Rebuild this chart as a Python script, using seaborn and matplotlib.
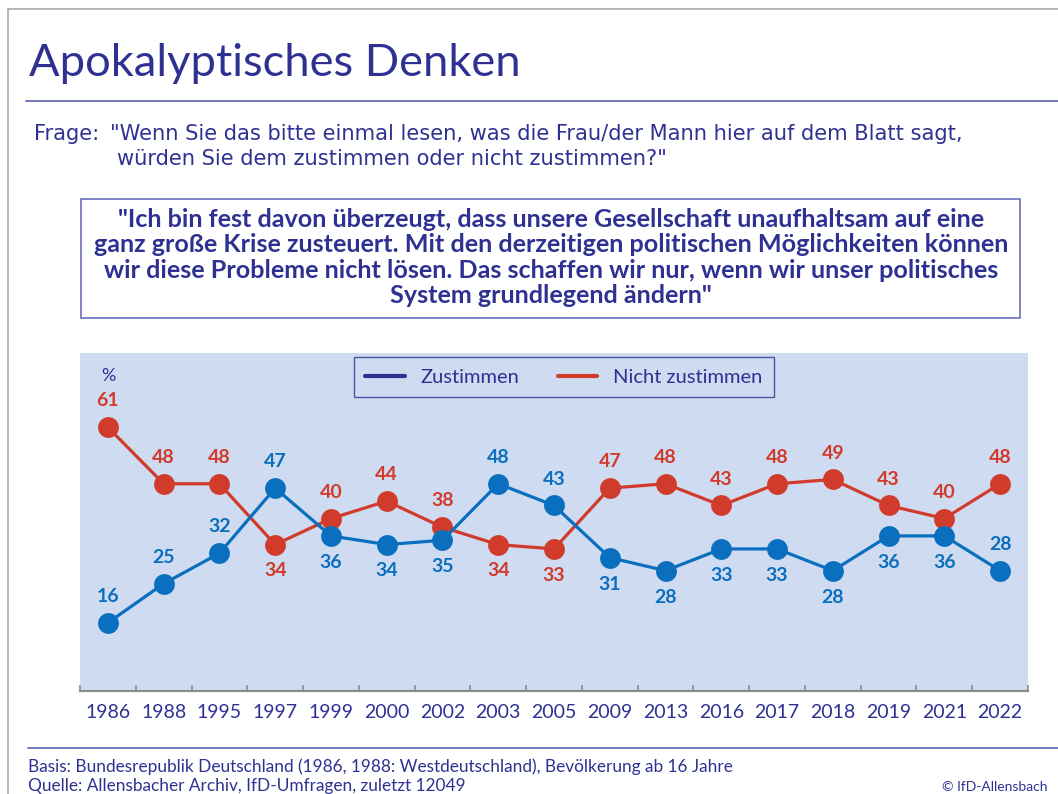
import matplotlib
matplotlib.use("Agg")
import matplotlib.pyplot as plt
import seaborn as sns
import pandas as pd
from matplotlib.lines import Line2D
from matplotlib.patches import Rectangle

sns.set_theme(style="white")
plt.rcParams['font.family'] = ['Lato', 'DejaVu Sans']

# data
years = ['1986', '1988', '1995', '1997', '1999', '2000', '2002', '2003', '2005',
         '2009', '2013', '2016', '2017', '2018', '2019', '2021', '2022']
zustimmen = [16, 25, 32, 47, 36, 34, 35, 48, 43, 31, 28, 33, 33, 28, 36, 36, 28]
nicht_zustimmen = [61, 48, 48, 34, 40, 44, 38, 34, 33, 47, 48, 43, 48, 49, 43, 40, 48]
# +1 = label above the point, -1 = below
zu_side = [1, 1, 1, 1, -1, -1, -1, 1, 1, -1, -1, -1, -1, -1, -1, -1, 1]
nz_side = [1, 1, 1, -1, 1, 1, 1, -1, -1, 1, 1, 1, 1, 1, 1, 1, 1]

navy = '#2e3192'
blue = '#0a6fbf'
red = '#d13b2c'
bg = '#cfdbf0'

W, H = 1058, 794


def fx(px):
    return px / W


def fy(py):
    return 1 - py / H


fig = plt.figure(figsize=(W / 100, H / 100), dpi=100)

# frame + rules
fig.add_artist(Line2D([fx(8), fx(8)], [fy(9), fy(794)], color='#a8a8a8', lw=1.2))
fig.add_artist(Line2D([fx(8), fx(1058)], [fy(9), fy(9)], color='#a8a8a8', lw=1.2))
fig.add_artist(Line2D([fx(26), fx(1058)], [fy(101), fy(101)], color='#5a5fb0', lw=1.2))
fig.add_artist(Line2D([fx(28), fx(1058)], [fy(748), fy(748)], color='#5a5fb0', lw=1.2))

fig.text(fx(29), fy(76), 'Apokalyptisches Denken', fontsize=32.6, color=navy,
         va='baseline', ha='left')

qfont = ['DejaVu Sans']
fig.text(fx(34), fy(140), 'Frage:', fontsize=15.1, color=navy, va='baseline', family=qfont)
fig.text(fx(110), fy(140), '"Wenn Sie das bitte einmal lesen, was die Frau/der Mann hier auf dem Blatt sagt,',
         fontsize=15.1, color=navy, va='baseline', family=qfont)
fig.text(fx(117), fy(165), 'würden Sie dem zustimmen oder nicht zustimmen?"',
         fontsize=15.1, color=navy, va='baseline', family=qfont)

fig.add_artist(Rectangle((fx(81), fy(318)), fx(1020) - fx(81), fy(199) - fy(318),
                         fill=False, edgecolor='#6a6fbf', lw=1.2))
quote_lines = ['"Ich bin fest davon überzeugt, dass unsere Gesellschaft unaufhaltsam auf eine',
               'ganz große Krise zusteuert. Mit den derzeitigen politischen Möglichkeiten können',
               'wir diese Probleme nicht lösen. Das schaffen wir nur, wenn wir unser politisches',
               'System grundlegend ändern"']
for i, line in enumerate(quote_lines):
    fig.text(fx(551), fy(227 + 25.4 * i), line, fontsize=18.1, color=navy,
             fontweight='bold', ha='center', va='baseline')

# chart
ax = fig.add_axes([fx(80), fy(691), fx(1028) - fx(80), fy(353) - fy(691)])
ax.set_facecolor(bg)

pos = list(range(len(years)))
df = pd.DataFrame({
    'pos': pos * 2,
    'wert': nicht_zustimmen + zustimmen,
    'serie': ['Nicht zustimmen'] * len(years) + ['Zustimmen'] * len(years),
})
sns.lineplot(data=df, x='pos', y='wert', hue='serie',
             palette={'Nicht zustimmen': red, 'Zustimmen': blue},
             marker='o', markersize=15, markeredgewidth=0, linewidth=2.3,
             legend=False, ax=ax)

for vals, sides, col in [(nicht_zustimmen, nz_side, red), (zustimmen, zu_side, blue)]:
    for p, v, s in zip(pos, vals, sides):
        ax.annotate(str(v), (p, v), xytext=(0, 19 * s), textcoords='offset points',
                    ha='center', va='center', fontsize=14, fontweight='bold',
                    color=col, zorder=5)

ax.set_xlim(-0.5, len(years) - 0.5)
ax.set_ylim(0.3, 78.1)
ax.set_xticks(pos)
ax.set_xticklabels(years)
ax.set_xticks([p - 0.5 for p in pos] + [len(years) - 0.5], minor=True)
ax.set_yticks([])
ax.set_xlabel('')
ax.set_ylabel('')
for side in ['top', 'left', 'right']:
    ax.spines[side].set_visible(False)
ax.spines['bottom'].set_color('#8c8c8c')
ax.spines['bottom'].set_linewidth(1.6)
ax.tick_params(axis='x', which='major', length=0, pad=9, labelsize=14, labelcolor=navy)
ax.tick_params(axis='x', which='minor', direction='in', length=4.5, width=1.2,
               color='#8c8c8c', bottom=True)

ax.text((108 - 80) / (1028 - 80), (691 - 376) / (691 - 353), '%', transform=ax.transAxes,
        fontsize=13, color=navy, ha='center', va='center')

handles = [Line2D([], [], color=navy, lw=3), Line2D([], [], color=red, lw=3)]
leg = fig.legend(handles, ['Zustimmen', 'Nicht zustimmen'], ncol=2,
                 loc='center', bbox_to_anchor=(fx(564), fy(377)),
                 fontsize=14.5, frameon=True, fancybox=False, handlelength=1.95,
                 handletextpad=0.8, columnspacing=1.9, borderpad=0.55)
leg.get_frame().set_edgecolor(navy)
leg.get_frame().set_facecolor(bg)
leg.get_frame().set_linewidth(1.0)
for t in leg.get_texts():
    t.set_color(navy)

fig.text(fx(28), fy(772), 'Basis: Bundesrepublik Deutschland (1986, 1988: Westdeutschland), Bevölkerung ab 16 Jahre',
         fontsize=12.4, color=navy, va='baseline')
fig.text(fx(28), fy(791), 'Quelle: Allensbacher Archiv, IfD-Umfragen, zuletzt 12049',
         fontsize=12.4, color=navy, va='baseline')
fig.text(fx(1048), fy(791), '© IfD-Allensbach', fontsize=10, color=navy,
         va='baseline', ha='right')

fig.savefig('out.png', dpi=100)
